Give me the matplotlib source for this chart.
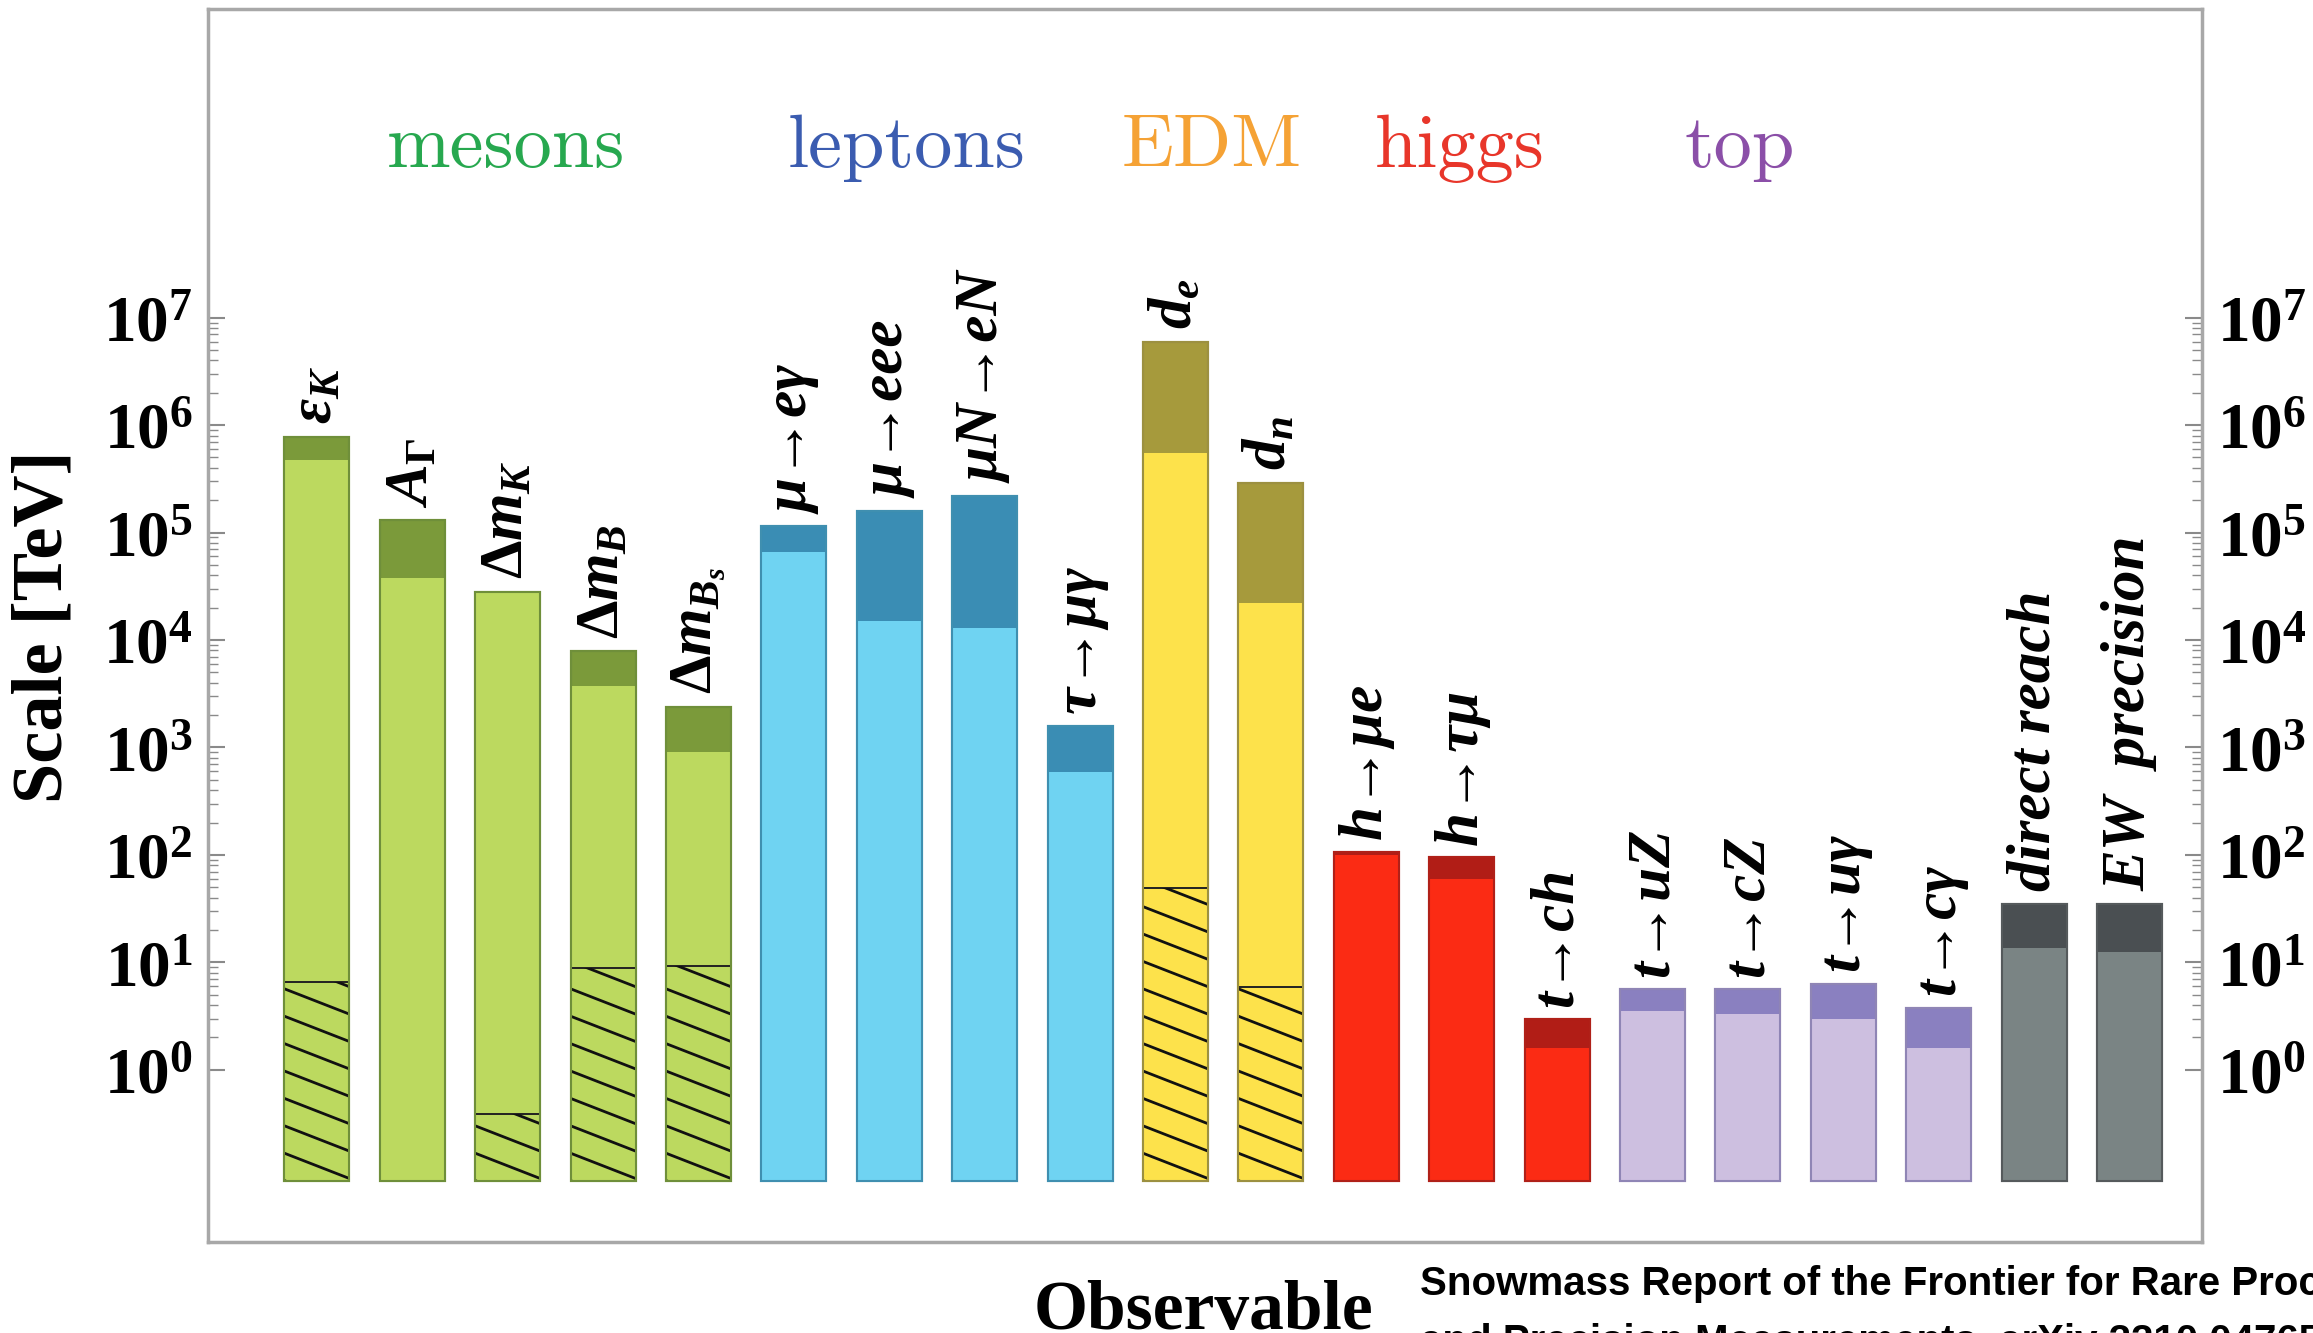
import numpy as np
import matplotlib.pyplot as plt
from matplotlib.ticker import FixedLocator, NullFormatter, FixedFormatter
from matplotlib.patches import Rectangle

plt.rcParams['font.family'] = 'Liberation Serif'
plt.rcParams['mathtext.fontset'] = 'custom'
plt.rcParams['mathtext.rm'] = 'Liberation Serif:bold'
plt.rcParams['mathtext.it'] = 'Liberation Serif:italic:bold'
plt.rcParams['mathtext.bf'] = 'Liberation Serif:bold'

# observables, left to right
labels = [r'$\epsilon_K$', r'$A_\Gamma$', r'$\Delta m_K$', r'$\Delta m_B$', r'$\Delta m_{B_s}$',
          'μ→eγ', 'μ→eee', 'μN→eN', 'τ→μγ', r'$d_e$', r'$d_n$',
          'h→μe', 'h→τμ', 't→ch',
          't→uZ', 't→cZ', 't→uγ', 't→cγ',
          'direct reach', 'EW  precision']
groups = ['mesons'] * 5 + ['leptons'] * 4 + ['EDM'] * 2 + ['higgs'] * 3 + ['top'] * 4 + ['ew'] * 2

# scale in TeV: upper end (dark cap), lower end (light bar), hatched part (None = no hatch)
scale_high = [7.8e5, 1.3e5, 2.8e4, 7.9e3, 2.4e3, 1.15e5, 1.6e5, 2.2e5, 1.6e3, 6.0e6, 2.9e5,
              107, 95, 2.95, 5.6, 5.6, 6.3, 3.8, 35, 35]
scale_low = [4.7e5, 3.8e4, 2.8e4, 3.7e3, 910, 6.6e4, 1.5e4, 1.3e4, 590, 5.5e5, 2.2e4,
             100, 60, 1.6, 3.5, 3.3, 3.0, 1.6, 13.5, 12.6]
scale_hatch = [6.6, None, 0.39, 8.9, 9.3, None, None, None, None, 49, 5.9,
               None, None, None, None, None, None, None, None, None]
base = 0.093

group_names = ['mesons', 'leptons', 'EDM', 'higgs', 'top']
group_colors = ['#27a84f', '#3b5cb0', '#f5a235', '#e8362a', '#8b4fa8']
group_pos = [1.98, 6.18, 9.38, 11.98, 14.91]

light = {'mesons': '#bcd95f', 'leptons': '#6fd3f2', 'EDM': '#fde24b', 'higgs': '#fb2b14',
         'top': '#cdbfe0', 'ew': '#7a8484'}
dark = {'mesons': '#7b9a3a', 'leptons': '#3a8db4', 'EDM': '#a69a3c', 'higgs': '#b11d16',
        'top': '#8a80c0', 'ew': '#4a4f52'}
edge = {'mesons': '#6f8f3a', 'leptons': '#3f8fb0', 'EDM': '#9c9040', 'higgs': '#b02018',
        'top': '#8f85b5', 'ew': '#555a5c'}

fig = plt.figure(figsize=(23.13, 13.33), dpi=100)
ax = fig.add_axes([0.090, 0.068, 0.862, 0.925])
ax.set_yscale('log')

x = np.arange(len(labels))
w = 0.68
for i in x:
    g = groups[i]
    ax.bar(i, scale_high[i] - base, w, bottom=base, color=dark[g], edgecolor=edge[g], linewidth=1.5, zorder=2)
    ax.bar(i, scale_low[i] - base, w, bottom=base, color=light[g], edgecolor='none', zorder=3)
    ax.bar(i, scale_high[i] - base, w, bottom=base, color='none', edgecolor=edge[g], linewidth=1.5, zorder=5)
    if scale_hatch[i] is not None:
        rect = Rectangle((i - w / 2, base), w, scale_hatch[i] - base, facecolor='none',
                         edgecolor='#222222', linewidth=1.4, zorder=4)
        ax.add_patch(rect)
        # shallow diagonal hatch lines
        for k in range(-2, 40):
            yl = base * 10 ** (0.255 * k)
            if yl > scale_hatch[i] * 10:
                break
            ln, = ax.plot([i - w / 2, i + w / 2], [yl, yl * 10 ** -0.235], color='#111111',
                          linewidth=2.0, zorder=4)
            ln.set_clip_path(rect)
    ax.annotate(labels[i], (i, scale_high[i]), xytext=(0, 9), textcoords='offset points',
                rotation=90, ha='center', va='bottom', fontsize=44, fontweight='bold',
                fontstyle='italic')

for name, col, pos in zip(group_names, group_colors, group_pos):
    ax.text(pos, 0.887, name, transform=ax.get_xaxis_transform(), color=col,
            fontsize=55, ha='center', va='center', family='cmr10')

ax.set_xlim(-1.14, 19.76)
ax.set_ylim(10 ** -1.606, 10 ** 9.87)
ax.set_xticks([])

major = [10.0 ** k for k in range(8)]
minor = [m * 10.0 ** k for k in range(7) for m in range(2, 10)]
ax.yaxis.set_major_locator(FixedLocator(major))
ax.yaxis.set_minor_locator(FixedLocator(minor))
ax.yaxis.set_major_formatter(FixedFormatter([r'$\mathbf{10^{%d}}$' % k for k in range(8)]))
ax.yaxis.set_minor_formatter(NullFormatter())
ax.tick_params(axis='y', which='both', direction='in', left=True, right=True,
               labelleft=True, labelright=True, color='#8a8a8a', labelsize=47, pad=11)
ax.tick_params(axis='y', which='major', length=12, width=1.5)
ax.tick_params(axis='y', which='minor', length=7, width=1.0)

for s in ax.spines.values():
    s.set_color('#a8a8a8')
    s.set_linewidth(2.5)

fig.text(0.019, 0.530, 'Scale [TeV]', rotation=90, ha='center', va='center',
         fontsize=52, fontweight='bold')
fig.text(0.5205, 0.0030, 'Observable', ha='center', va='baseline', fontsize=50, fontweight='bold')
fig.text(0.614, 0.0285, 'Snowmass Report of the Frontier for Rare Processes', ha='left',
         va='baseline', fontsize=29, fontweight='bold', family='Liberation Sans')
fig.text(0.614, -0.0143, 'and Precision Measurements, arXiv 2210.04765', ha='left',
         va='baseline', fontsize=29, fontweight='bold', family='Liberation Sans')

plt.savefig('out.png', dpi=100)
